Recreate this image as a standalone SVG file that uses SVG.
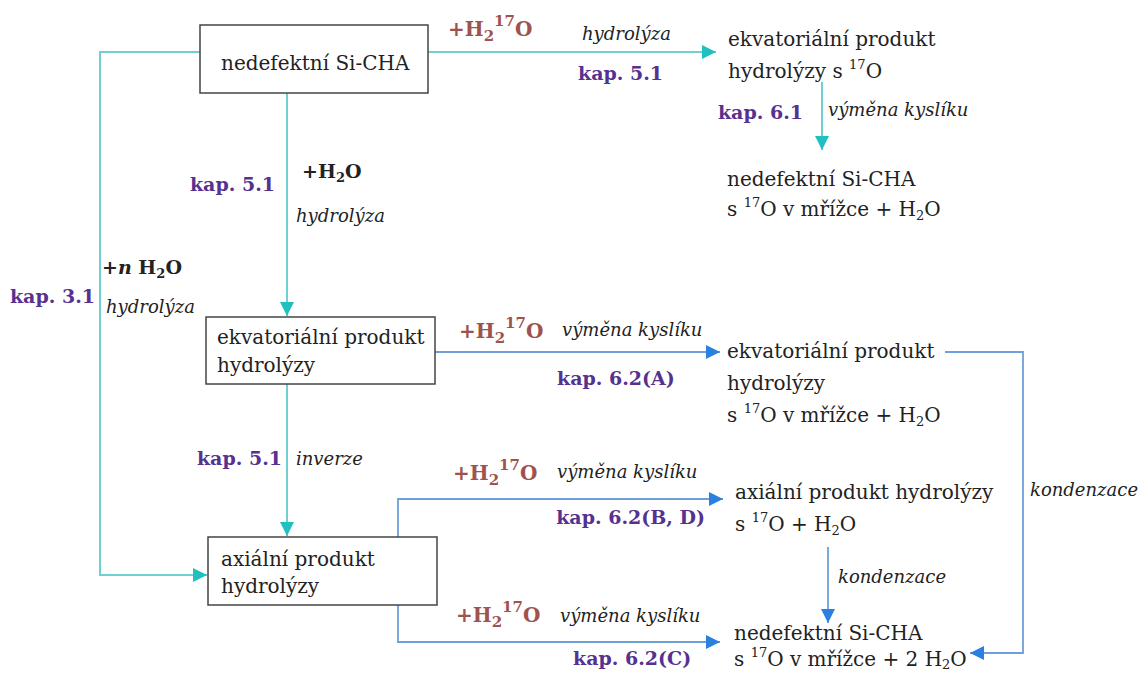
<svg xmlns="http://www.w3.org/2000/svg" width="1148" height="674" viewBox="0 0 1148 674">
<style>
text{font-family:"DejaVu Serif","Liberation Serif",serif;font-size:20px;fill:#222}
.it{font-style:italic;font-size:18px}
.kap{font-weight:bold;fill:#56318f;font-size:19px}
.red{font-weight:bold;fill:#a0524f;font-size:20px}
.blk{font-weight:bold;fill:#222;font-size:19px}
.sup{font-size:13px}
.rs{font-size:15px}
.box{fill:#fff;stroke:#444;stroke-width:1.5}
.teal{fill:none;stroke:#6fd0d2;stroke-width:2}
.blue{fill:none;stroke:#6f9fd8;stroke-width:1.8}
</style>
<defs>
<marker id="at" viewBox="0 0 10 10" refX="10" refY="5" markerWidth="15" markerHeight="14" markerUnits="userSpaceOnUse" orient="auto"><path d="M0,0 L10,5 L0,10 z" fill="#20bfc0"/></marker>
<marker id="ab" viewBox="0 0 10 10" refX="10" refY="5" markerWidth="15" markerHeight="14" markerUnits="userSpaceOnUse" orient="auto"><path d="M0,0 L10,5 L0,10 z" fill="#2a7fe0"/></marker>
</defs>
<rect width="1148" height="674" fill="#fff"/>
<g id="connectors">
<path class="teal" d="M428,52 H716" marker-end="url(#at)"/>
<path class="teal" d="M200,52 H100 V575 H207" marker-end="url(#at)"/>
<path class="teal" d="M287,93 V316" marker-end="url(#at)"/>
<path class="teal" d="M287,384 V536" marker-end="url(#at)"/>
<path class="teal" d="M822,82 V150" marker-end="url(#at)"/>
<path class="blue" d="M435,352 H720" marker-end="url(#ab)"/>
<path class="blue" d="M398,537 V499 H723" marker-end="url(#ab)"/>
<path class="blue" d="M398,605 V642 H720" marker-end="url(#ab)"/>
<path class="blue" d="M945,352 H1023 V653 H970" marker-end="url(#ab)"/>
<path class="blue" d="M828,547 V623" marker-end="url(#ab)"/>
</g>
<g id="n1"><rect class="box" x="200" y="25" width="228" height="68"/><text x="221" y="70">nedefektní Si-CHA</text></g>
<g id="n2"><rect class="box" x="206" y="317" width="229" height="67"/><text x="217" y="344">ekvatoriální produkt</text><text x="217" y="372">hydrolýzy</text></g>
<g id="n3"><rect class="box" x="208" y="537" width="229" height="68"/><text x="221" y="566">axiální produkt</text><text x="221" y="593">hydrolýzy</text></g>
<g id="n4"><text x="728" y="46">ekvatoriální produkt</text><text x="728" y="78">hydrolýzy s <tspan class="sup" dy="-9">17</tspan><tspan dy="9">O</tspan></text></g>
<g id="n5"><text x="727" y="186">nedefektní Si-CHA</text><text x="727" y="216">s <tspan class="sup" dy="-9">17</tspan><tspan dy="9">O v mřížce + H</tspan><tspan class="sup" dy="4">2</tspan><tspan dy="-4">O</tspan></text></g>
<g id="n6"><text x="727" y="358">ekvatoriální produkt</text><text x="727" y="390">hydrolýzy</text><text x="727" y="422">s <tspan class="sup" dy="-9">17</tspan><tspan dy="9">O v mřížce + H</tspan><tspan class="sup" dy="4">2</tspan><tspan dy="-4">O</tspan></text></g>
<g id="n7"><text x="735" y="499">axiální produkt hydrolýzy</text><text x="735" y="531">s <tspan class="sup" dy="-9">17</tspan><tspan dy="9">O + H</tspan><tspan class="sup" dy="4">2</tspan><tspan dy="-4">O</tspan></text></g>
<g id="n8"><text x="734" y="640">nedefektní Si-CHA</text><text x="734" y="666">s <tspan class="sup" dy="-9">17</tspan><tspan dy="9">O v mřížce + 2 H</tspan><tspan class="sup" dy="3">2</tspan><tspan dy="-3">O</tspan></text></g>
<g id="labels">
<text class="red" x="448" y="36">+H<tspan class="rs" dy="5">2</tspan><tspan class="rs" dy="-15">17</tspan><tspan dy="10">O</tspan></text>
<text class="it" x="582" y="40">hydrolýza</text>
<text class="kap" x="578" y="80">kap. 5.1</text>
<text class="kap" x="803" y="119" text-anchor="end">kap. 6.1</text>
<text class="it" x="828" y="116">výměna kyslíku</text>
<text class="kap" x="275" y="191" text-anchor="end">kap. 5.1</text>
<text class="blk" x="302" y="178">+H<tspan class="sup" dy="4">2</tspan><tspan dy="-4">O</tspan></text>
<text class="it" x="296" y="222">hydrolýza</text>
<text class="blk" x="102" y="274">+<tspan font-style="italic">n</tspan> H<tspan class="sup" dy="4">2</tspan><tspan dy="-4">O</tspan></text>
<text class="kap" x="95" y="303" text-anchor="end">kap. 3.1</text>
<text class="it" x="106" y="313">hydrolýza</text>
<text class="red" x="459" y="338">+H<tspan class="rs" dy="5">2</tspan><tspan class="rs" dy="-15">17</tspan><tspan dy="10">O</tspan></text>
<text class="it" x="562" y="336">výměna kyslíku</text>
<text class="kap" x="557" y="385">kap. 6.2(A)</text>
<text class="kap" x="282" y="465" text-anchor="end">kap. 5.1</text>
<text class="it" x="296" y="465">inverze</text>
<text class="red" x="453" y="480">+H<tspan class="rs" dy="5">2</tspan><tspan class="rs" dy="-15">17</tspan><tspan dy="10">O</tspan></text>
<text class="it" x="557" y="478">výměna kyslíku</text>
<text class="kap" x="705" y="524" text-anchor="end">kap. 6.2(B, D)</text>
<text class="it" x="1030" y="496">kondenzace</text>
<text class="it" x="838" y="583">kondenzace</text>
<text class="red" x="456" y="622">+H<tspan class="rs" dy="5">2</tspan><tspan class="rs" dy="-15">17</tspan><tspan dy="10">O</tspan></text>
<text class="it" x="560" y="622">výměna kyslíku</text>
<text class="kap" x="573" y="665">kap. 6.2(C)</text>
</g>
</svg>
